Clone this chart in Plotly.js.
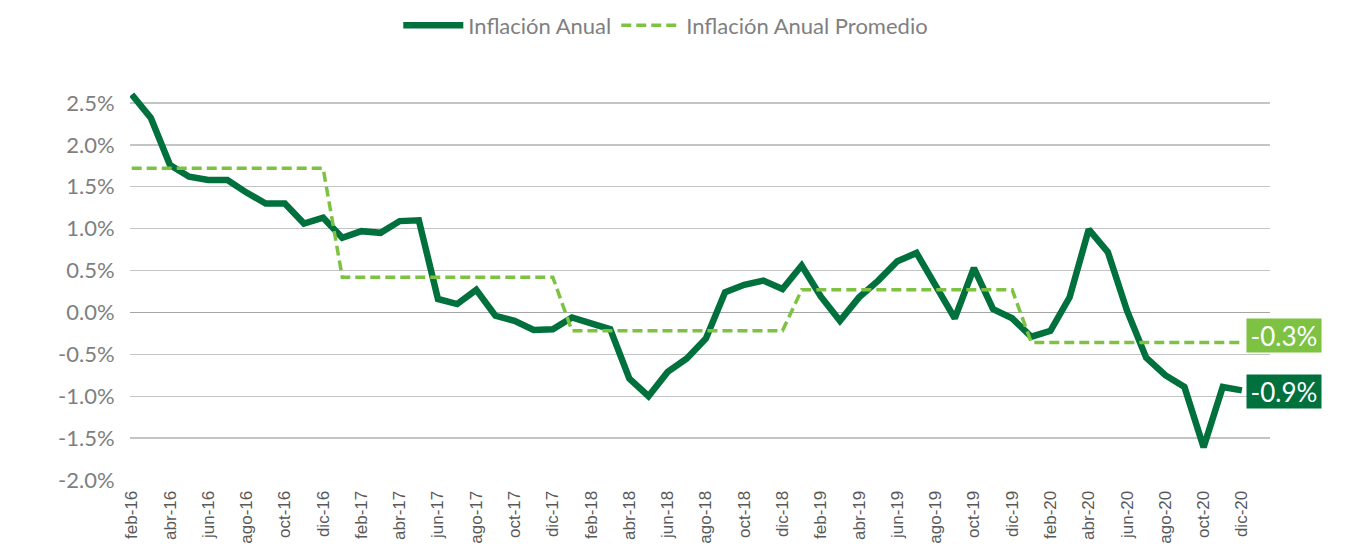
<!DOCTYPE html>
<html>
<head>
<meta charset="utf-8">
<script src="https://cdn.plot.ly/plotly-3.0.1.min.js"></script>
<style>
  html, body { margin: 0; padding: 0; background: #ffffff; }
  #chart { width: 1349px; height: 551px; }
</style>
</head>
<body>
<div id="chart"></div>
<script>
// Months (feb-16 .. dic-20)
const months = [
  "feb-16","mar-16","abr-16","may-16","jun-16","jul-16","ago-16","sep-16","oct-16","nov-16","dic-16",
  "ene-17","feb-17","mar-17","abr-17","may-17","jun-17","jul-17","ago-17","sep-17","oct-17","nov-17","dic-17",
  "ene-18","feb-18","mar-18","abr-18","may-18","jun-18","jul-18","ago-18","sep-18","oct-18","nov-18","dic-18",
  "ene-19","feb-19","mar-19","abr-19","may-19","jun-19","jul-19","ago-19","sep-19","oct-19","nov-19","dic-19",
  "ene-20","feb-20","mar-20","abr-20","may-20","jun-20","jul-20","ago-20","sep-20","oct-20","nov-20","dic-20"
];

// Inflación Anual (%)
const inflacionAnual = [
  2.60, 2.32, 1.76, 1.62, 1.58, 1.58, 1.43, 1.30, 1.30, 1.06, 1.13,
  0.89, 0.97, 0.95, 1.09, 1.10, 0.16, 0.10, 0.27, -0.04, -0.10, -0.21, -0.20,
  -0.06, -0.13, -0.20, -0.79, -1.00, -0.71, -0.55, -0.31, 0.24, 0.33, 0.38, 0.28,
  0.56, 0.19, -0.10, 0.18, 0.38, 0.61, 0.71, 0.32, -0.07, 0.53, 0.04, -0.07,
  -0.29, -0.22, 0.18, 0.99, 0.72, 0.02, -0.54, -0.75, -0.89, -1.61, -0.89, -0.93
];

// Inflación Anual Promedio (%)
const inflacionPromedio = [
  1.72, 1.72, 1.72, 1.72, 1.72, 1.72, 1.72, 1.72, 1.72, 1.72, 1.72,
  0.42, 0.42, 0.42, 0.42, 0.42, 0.42, 0.42, 0.42, 0.42, 0.42, 0.42, 0.42,
  -0.22, -0.22, -0.22, -0.22, -0.22, -0.22, -0.22, -0.22, -0.22, -0.22, -0.22, -0.22,
  0.27, 0.27, 0.27, 0.27, 0.27, 0.27, 0.27, 0.27, 0.27, 0.27, 0.27, 0.27,
  -0.36, -0.36, -0.36, -0.36, -0.36, -0.36, -0.36, -0.36, -0.36, -0.36, -0.36, -0.36
];

const yTickVals = [-2.0, -1.5, -1.0, -0.5, 0.0, 0.5, 1.0, 1.5, 2.0, 2.5];
const yTickText = ["-2.0%", "-1.5%", "-1.0%", "-0.5%", "0.0%", "0.5%", "1.0%", "1.5%", "2.0%", "2.5%"];

const endLabelAnual = "-0.9%";
const endLabelPromedio = "-0.3%";

const darkGreen = "#00703C";
const lightGreen = "#7DC242";

const traces = [
  {
    x: months, y: inflacionAnual, name: "Inflación Anual",
    type: "scatter", mode: "lines",
    line: { color: darkGreen, width: 6.5 }
  },
  {
    x: months, y: inflacionPromedio, name: "Inflación Anual Promedio",
    type: "scatter", mode: "lines",
    line: { color: lightGreen, width: 3.5, dash: "10px,5px" }
  }
];

const last = months.length - 1;

const layout = {
  width: 1349, height: 551,
  margin: { l: 130, r: 79, t: 82, b: 71, autoexpand: false },
  paper_bgcolor: "#ffffff", plot_bgcolor: "#ffffff",
  showlegend: true,
  legend: {
    orientation: "h", x: 0.47, xanchor: "center", y: 1.142, yanchor: "middle",
    font: { family: "Lato, 'Open Sans', sans-serif", size: 22, color: "#808080" },
    itemwidth: 60, traceorder: "normal"
  },
  xaxis: {
    type: "category",
    range: [-0.09, 59.47],
    tickmode: "linear", tick0: 0, dtick: 2,
    tickangle: -90,
    tickfont: { family: "'Liberation Sans', Arial, sans-serif", size: 17, color: "#595959" },
    showgrid: false, zeroline: false, showline: false,
    ticks: "outside", ticklen: 3, tickcolor: "rgba(0,0,0,0)"
  },
  yaxis: {
    range: [-2.0, 2.75],
    tickmode: "array", tickvals: yTickVals, ticktext: yTickText,
    tickfont: { family: "Lato, 'Open Sans', sans-serif", size: 22, color: "#7F7F7F" },
    showgrid: true, gridcolor: "#C4C4C4", gridwidth: 1.4,
    zeroline: true, zerolinecolor: "#A6A6A6", zerolinewidth: 1.6,
    showline: false, ticks: "outside", ticklen: 10, tickcolor: "rgba(0,0,0,0)"
  },
  annotations: [
    {
      x: months[last], y: inflacionPromedio[last], xref: "x", yref: "y",
      xanchor: "left", yanchor: "middle", xshift: 4, yshift: 7,
      text: endLabelPromedio, showarrow: false,
      bgcolor: lightGreen, width: 72, height: 31, align: "center", valign: "middle",
      font: { family: "Lato, 'Open Sans', sans-serif", size: 26, color: "#ffffff" }
    },
    {
      x: months[last], y: inflacionAnual[last], xref: "x", yref: "y",
      xanchor: "left", yanchor: "middle", xshift: 4, yshift: -1.5,
      text: endLabelAnual, showarrow: false,
      bgcolor: darkGreen, width: 72, height: 31, align: "center", valign: "middle",
      font: { family: "Lato, 'Open Sans', sans-serif", size: 26, color: "#ffffff" }
    }
  ]
};

Plotly.newPlot("chart", traces, layout, { displayModeBar: false, staticPlot: true });
</script>
</body>
</html>
